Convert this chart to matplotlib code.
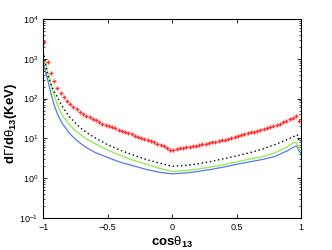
import numpy as np
import matplotlib
matplotlib.use('Agg')
import matplotlib.pyplot as plt
from matplotlib.ticker import LogLocator

plt.rcParams['font.family'] = ['Liberation Sans', 'DejaVu Sans']
plt.rcParams['mathtext.fontset'] = 'custom'
plt.rcParams['mathtext.rm'] = 'Liberation Sans'
plt.rcParams['mathtext.it'] = 'Liberation Sans:italic'
plt.rcParams['mathtext.bf'] = 'Liberation Sans:bold'

# red points (log10 of dGamma/dtheta, KeV), step 0.025 in cos
red_x = [round(-0.99 + 0.025 * i, 3) for i in range(80)]
red_log10 = [3.42, 2.92, 2.65, 2.44, 2.27, 2.14, 2.03, 1.94, 1.86, 1.79,
             1.73, 1.67, 1.62, 1.57, 1.53, 1.49, 1.45, 1.41, 1.37, 1.34,
             1.31, 1.28, 1.25, 1.22, 1.19, 1.16, 1.13, 1.10, 1.07, 1.04,
             1.02, 0.99, 0.96, 0.93, 0.90, 0.87, 0.84, 0.81, 0.77, 0.72,
             0.71, 0.73, 0.75, 0.77, 0.78, 0.79, 0.81, 0.82, 0.84, 0.85,
             0.87, 0.88, 0.90, 0.91, 0.93, 0.95, 0.97, 0.99, 1.01, 1.03,
             1.05, 1.08, 1.10, 1.13, 1.15, 1.17, 1.19, 1.21, 1.23, 1.25,
             1.28, 1.30, 1.33, 1.36, 1.40, 1.44, 1.48, 1.52, 1.57, 1.44]

# black dotted curve
black_x = [-0.992, -0.98, -0.97, -0.958, -0.946, -0.934, -0.922, -0.906, -0.89, -0.868,
           -0.845, -0.8, -0.76, -0.713, -0.66, -0.6, -0.5, -0.4, -0.3, -0.2,
           -0.1, 0.0, 0.1, 0.2, 0.3, 0.4, 0.5, 0.6, 0.7, 0.8,
           0.9, 0.97, 0.985]
black_log10 = [3.08, 2.85, 2.66, 2.53, 2.42, 2.32, 2.22, 2.13, 2.04, 1.90,
               1.77, 1.56, 1.42, 1.27, 1.14, 1.02, 0.84, 0.70, 0.58, 0.47,
               0.38, 0.30, 0.32, 0.36, 0.42, 0.49, 0.56, 0.64, 0.73, 0.85,
               0.98, 1.09, 0.93]

# green and blue solid curves
line_x = [-1.0, -0.99, -0.98, -0.97, -0.958, -0.946, -0.934, -0.922, -0.906, -0.89,
          -0.868, -0.85, -0.8, -0.76, -0.713, -0.66, -0.6, -0.5, -0.4, -0.3,
          -0.2, -0.1, 0.0, 0.1, 0.2, 0.3, 0.4, 0.5, 0.6, 0.7,
          0.8, 0.9, 0.94, 0.965, 0.985, 1.0]
green_log10 = [3.02, 2.93, 2.85, 2.75, 2.60, 2.45, 2.30, 2.16, 2.00, 1.85,
               1.68, 1.57, 1.36, 1.22, 1.10, 0.98, 0.87, 0.71, 0.57, 0.45,
               0.35, 0.25, 0.17, 0.19, 0.23, 0.28, 0.34, 0.41, 0.48, 0.54,
               0.64, 0.80, 0.90, 0.89, 0.72, 0.68]
blue_log10 = [2.85, 2.77, 2.66, 2.54, 2.38, 2.22, 2.06, 1.92, 1.76, 1.62,
              1.47, 1.37, 1.14, 1.01, 0.88, 0.76, 0.65, 0.52, 0.40, 0.31,
              0.22, 0.15, 0.11, 0.13, 0.17, 0.22, 0.28, 0.35, 0.41, 0.47,
              0.55, 0.70, 0.78, 0.81, 0.68, 0.62]

xticks = [-1, -0.5, 0, 0.5, 1]
xticklabels = ['\u22121', '\u22120.5', '0', '0.5', '1']
yticks = [1e-1, 1e0, 1e1, 1e2, 1e3, 1e4]
yticklabels = [r'$10^{-1}$', r'$10^{0}$', r'$10^{1}$', r'$10^{2}$', r'$10^{3}$', r'$10^{4}$']

fig = plt.figure(figsize=(3.32, 2.5), dpi=100)
ax = fig.add_axes([0.13, 0.128, 0.777, 0.796])

ax.plot(line_x, 10 ** np.array(blue_log10), color='#5577ee', lw=0.9)
ax.plot(line_x, 10 ** np.array(green_log10), color='#88ee44', lw=0.9)
ax.plot(black_x, 10 ** np.array(black_log10), color='black', lw=1.0, ls=(0, (1, 2)))
ax.plot(red_x, 10 ** np.array(red_log10), ls='none', marker='+', ms=3, mew=1.0,
        color='#ff3333')

ax.set_yscale('log')
ax.set_xlim(-1, 1)
ax.set_ylim(1e-1, 1e4)
ax.set_xticks(xticks)
ax.set_xticklabels(xticklabels)
ax.set_yticks(yticks)
ax.set_yticklabels(yticklabels)
ax.yaxis.set_minor_locator(LogLocator(base=10, subs=np.arange(2, 10)))
ax.tick_params(direction='in', which='both', top=True, right=True, labelsize=6.5)
ax.tick_params(which='major', length=3, width=0.6)
ax.tick_params(which='minor', length=1.5, width=0.5)
for s in ax.spines.values():
    s.set_linewidth(0.8)

ax.set_xlabel(r'$\mathbf{cos}\mathrm{θ}_\mathbf{13}$', fontsize=9.5, labelpad=2)
ax.set_ylabel(r'$\mathbf{d}\mathrm{Γ}\mathbf{/d}\mathrm{θ}_\mathbf{13}\mathbf{(KeV)}$',
              fontsize=9.5)
ax.yaxis.set_label_coords(-0.095, 0.475)

fig.savefig('out.png', dpi=100)
